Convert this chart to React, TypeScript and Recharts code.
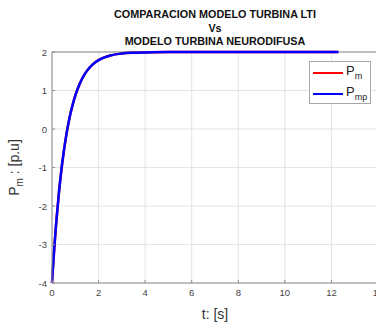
import { LineChart, Line, XAxis, YAxis, CartesianGrid, ReferenceLine, Label } from "recharts"

// time [s] and turbine power [p.u]
const time = [0, 0.05, 0.1, 0.15, 0.2, 0.3, 0.4, 0.5, 0.6, 0.7, 0.8, 0.9, 1.0, 1.1, 1.2, 1.35, 1.5, 1.75, 2.0, 2.25, 2.5, 3.0, 3.5, 4, 5, 6, 8, 10, 12.3]
const pm = [-4, -3.52, -3.08, -2.67, -2.3, -1.64, -1.08, -0.61, -0.21, 0.13, 0.42, 0.66, 0.87, 1.04, 1.19, 1.37, 1.51, 1.68, 1.79, 1.86, 1.91, 1.96, 1.98, 1.99, 2, 2, 2, 2, 2]
const pmp = [-4, -3.52, -3.08, -2.67, -2.3, -1.64, -1.08, -0.61, -0.21, 0.13, 0.42, 0.66, 0.87, 1.04, 1.19, 1.37, 1.51, 1.68, 1.79, 1.86, 1.91, 1.96, 1.98, 1.99, 2, 2, 2, 2, 2]

const xTicks = [0, 2, 4, 6, 8, 10, 12, 14]
const yTicks = [-4, -3, -2, -1, 0, 1, 2]
const titleLines = ["COMPARACION MODELO TURBINA LTI", "Vs", "MODELO TURBINA NEURODIFUSA"]

const data = time.map((t, i) => ({ t, pm: pm[i], pmp: pmp[i] }))

const FONT = "'Liberation Sans', Arial, sans-serif"
const AXIS = "#8c8c8c"

function XTick(props: any) {
  const { x, y, payload } = props
  return (
    <g>
      <line x1={x} x2={x} y1={y} y2={y - 3} stroke={AXIS} />
      <text x={x} y={y + 13} textAnchor="middle" fontSize={9.5} fill="#444" fontFamily={FONT}>
        {payload.value}
      </text>
    </g>
  )
}

function YTick(props: any) {
  const { x, y, payload } = props
  return (
    <g>
      <line x1={x} x2={x + 3} y1={y} y2={y} stroke={AXIS} />
      <text x={x - 5} y={y + 3.5} textAnchor="end" fontSize={9.5} fill="#444" fontFamily={FONT}>
        {payload.value}
      </text>
    </g>
  )
}

function YLabel(props: any) {
  const vb = props.viewBox
  const cx = vb.x + 19
  const cy = vb.y + vb.height / 2
  return (
    <text
      x={cx}
      y={cy}
      transform={`rotate(-90 ${cx} ${cy})`}
      textAnchor="middle"
      fontSize={14}
      fill="#333"
      fontFamily={FONT}
    >
      P<tspan fontSize={10} dy={4}>m</tspan>
      <tspan dy={-4}> : [p.u]</tspan>
    </text>
  )
}

function XLabel(props: any) {
  const vb = props.viewBox
  return (
    <text x={vb.x + vb.width / 2} y={vb.y + 36} textAnchor="middle" fontSize={14} fill="#333" fontFamily={FONT}>
      t: [s]
    </text>
  )
}

export default function App() {
  return (
    <div style={{ position: "absolute", left: 0, top: 0, width: 376, height: 322, overflow: "hidden", background: "#fff" }}>
      <div
        style={{
          position: "absolute",
          left: 52,
          top: 8,
          width: 326,
          textAlign: "center",
          fontFamily: FONT,
          fontWeight: "bold",
          fontSize: 10.8,
          lineHeight: "13.5px",
          color: "#111",
        }}
      >
        {titleLines.map((l) => (
          <div key={l}>{l}</div>
        ))}
      </div>
      <LineChart width={390} height={322} data={data} margin={{ top: 52, right: 12, left: 0, bottom: 0 }}>
        <CartesianGrid stroke="#e4e4e4" />
        <XAxis
          type="number"
          dataKey="t"
          domain={[0, 14]}
          ticks={xTicks}
          interval={0}
          height={39}
          tickSize={0}
          tickMargin={0}
          stroke={AXIS}
          tick={<XTick />}
        >
          <Label content={<XLabel />} />
        </XAxis>
        <YAxis
          type="number"
          domain={[-4, 2]}
          ticks={yTicks}
          interval={0}
          width={52}
          tickSize={0}
          tickMargin={0}
          stroke={AXIS}
          tick={<YTick />}
        >
          <Label content={<YLabel />} />
        </YAxis>
        <ReferenceLine y={2} stroke={AXIS} />
        <Line type="monotone" dataKey="pm" stroke="#ff0000" strokeWidth={2.5} dot={false} isAnimationActive={false} />
        <Line type="monotone" dataKey="pmp" stroke="#0000ff" strokeWidth={2.5} dot={false} isAnimationActive={false} />
      </LineChart>
      <div
        style={{
          position: "absolute",
          left: 309,
          top: 61,
          width: 60,
          height: 41,
          border: "1px solid #a6a6a6",
          background: "#fff",
          fontFamily: FONT,
          color: "#222",
        }}
      >
        {[
          { c: "#ff0000", sub: "m" },
          { c: "#0000ff", sub: "mp" },
        ].map((e, i) => (
          <div key={e.sub} style={{ position: "absolute", left: 3, top: 4 + i * 21, height: 14, display: "flex", alignItems: "center" }}>
            <div style={{ width: 30, height: 2.5, background: e.c }} />
            <span style={{ fontSize: 13, marginLeft: 3, lineHeight: "14px" }}>
              P<sub style={{ fontSize: 9, verticalAlign: "-4px" }}>{e.sub}</sub>
            </span>
          </div>
        ))}
      </div>
    </div>
  )
}
